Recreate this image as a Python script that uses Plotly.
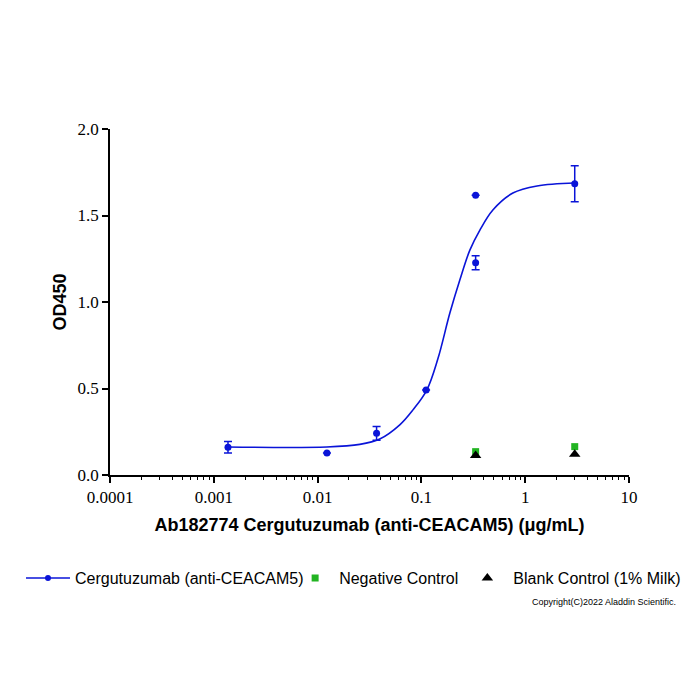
import plotly.graph_objects as go

# ---- data ----
conc = [0.00137, 0.0123, 0.037, 0.111, 0.333, 0.333, 3.0]
od = [0.16, 0.127, 0.241, 0.491, 1.617, 1.227, 1.684]
od_err = [0.033, 0.0, 0.04, 0.0, 0.0, 0.04, 0.104]

# fitted curve
fit_x = [0.00136, 0.01225, 0.0255, 0.0397, 0.0619, 0.0826, 0.1127, 0.1439,
         0.188, 0.2345, 0.293, 0.366, 0.488, 0.761, 1.30, 3.01]
fit_y = [0.162, 0.162, 0.177, 0.208, 0.29, 0.375, 0.491, 0.67,
         0.936, 1.127, 1.30, 1.416, 1.532, 1.630, 1.671, 1.688]

neg_x = [0.333, 3.0]
neg_y = [0.135, 0.164]
blank_x = [0.333, 3.0]
blank_y = [0.112, 0.12]

x_tickvals = [0.0001, 0.001, 0.01, 0.1, 1, 10]
x_ticktext = ["0.0001", "0.001", "0.01", "0.1", "1", "10"]
y_tickvals = [0.0, 0.5, 1.0, 1.5, 2.0]
y_ticktext = ["0.0", "0.5", "1.0", "1.5", "2.0"]

BLUE = "#0a14d8"
GREEN = "#22b422"

fig = go.Figure()
fig.add_trace(go.Scatter(x=fit_x, y=fit_y, mode="lines", line=dict(color=BLUE, width=1.6, shape="spline", smoothing=1.0),
                         showlegend=False, hoverinfo="skip"))
fig.add_trace(go.Scatter(x=conc, y=od, mode="markers", marker=dict(color=BLUE, size=7),
                         error_y=dict(type="data", array=od_err, color=BLUE, thickness=1.5, width=4),
                         showlegend=False))
fig.add_trace(go.Scatter(x=[None], y=[None], mode="lines+markers", name="Cergutuzumab (anti-CEACAM5)",
                         line=dict(color=BLUE, width=1.6), marker=dict(color=BLUE, size=6), legend="legend"))
fig.add_trace(go.Scatter(x=neg_x, y=neg_y, mode="markers", name="Negative Control",
                         marker=dict(color=GREEN, symbol="square", size=7), legend="legend2"))
fig.add_trace(go.Scatter(x=blank_x, y=blank_y, mode="markers", name="Blank Control (1% Milk)",
                         marker=dict(color="black", symbol="triangle-up", size=10), legend="legend3"))

leg_font = dict(family="Liberation Sans, Arial", size=16, color="black")
leg_common = dict(orientation="h", xanchor="left", y=-0.298, yanchor="middle",
                  font=leg_font, bgcolor="rgba(0,0,0,0)")

fig.update_layout(
    width=700, height=700,
    paper_bgcolor="white", plot_bgcolor="white",
    margin=dict(l=102, r=79, t=121, b=233),
    font=dict(family="Liberation Sans, Arial", color="black"),
    legend=dict(x=-0.1715, itemwidth=44, **leg_common),
    legend2=dict(x=0.349, itemwidth=38, **leg_common),
    legend3=dict(x=0.677, itemwidth=42, **leg_common),
    annotations=[dict(text="Copyright(C)2022 Aladdin Scientific.", xref="paper", yref="paper",
                      x=1.094, y=-0.367, xanchor="right", yanchor="middle", showarrow=False,
                      font=dict(family="Liberation Sans, Arial", size=9, color="black"))],
)

fig.update_xaxes(type="log", range=[-4, 1], showline=True, linecolor="black", linewidth=1.5,
                 showgrid=False, zeroline=False, ticks="outside", ticklen=6, tickwidth=1.5, tickcolor="black",
                 tickvals=x_tickvals, ticktext=x_ticktext,
                 tickfont=dict(family="Liberation Serif, Times New Roman", size=17, color="black"),
                 minor=dict(ticks="outside", ticklen=3, tickwidth=1, tickcolor="black", dtick="D1", showgrid=False),
                 title=dict(text="<b>Ab182774 Cergutuzumab (anti-CEACAM5) (μg/mL)</b>", standoff=12,
                            font=dict(family="Liberation Sans, Arial", size=18, color="black")))
fig.update_yaxes(range=[0, 2], showline=True, linecolor="black", linewidth=1.5,
                 showgrid=False, zeroline=False, ticks="outside", ticklen=6, tickwidth=1.5, tickcolor="black",
                 tickvals=y_tickvals, ticktext=y_ticktext,
                 tickfont=dict(family="Liberation Serif, Times New Roman", size=17, color="black"),
                 title=dict(text="<b>OD450</b>", standoff=6,
                            font=dict(family="Liberation Sans, Arial", size=18, color="black")))

fig.write_html("out.html")
